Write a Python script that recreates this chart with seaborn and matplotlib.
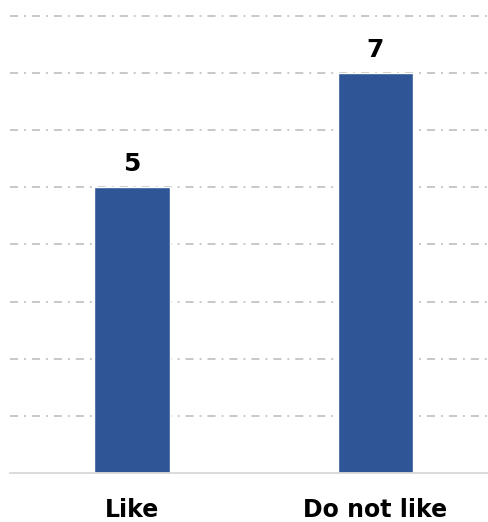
import matplotlib
matplotlib.use("Agg")
import matplotlib.pyplot as plt
import seaborn as sns
import pandas as pd

categories = ["Like", "Do not like"]
values = [5, 7]

sns.set_theme(style="white")
plt.rcParams['font.family'] = ['DejaVu Sans']
plt.rcParams['lines.scale_dashes'] = False

df = pd.DataFrame({"category": categories, "count": values})

fig = plt.figure(figsize=(4.88, 5.22), dpi=100)
ax = fig.add_axes([10/488, 49/522, 1 - 10/488, (473 - 13)/522])

sns.barplot(data=df, x="category", y="count", color="#2F5597", saturation=1,
            width=0.312, ax=ax, zorder=3)

ax.set_xlim(-0.501, 1.462)
ax.set_ylim(0, 8.05)
ax.set_yticks(range(1, 9))
ax.yaxis.grid(True, color="#BFBFBF", linewidth=1.2, linestyle=(0, (5.8, 4.3, 1.4, 4.3)), zorder=0)
ax.xaxis.grid(False)
ax.tick_params(axis="y", length=0, labelleft=False)
ax.tick_params(axis="x", length=0, pad=18)
for lab in ax.get_xticklabels():
    lab.set_fontweight("bold")
    lab.set_fontsize(17)
    lab.set_color("black")
ax.set_xlabel("")
ax.set_ylabel("")
for side in ["top", "left", "right"]:
    ax.spines[side].set_visible(False)
ax.spines["bottom"].set_color("#D9D9D9")
ax.spines["bottom"].set_linewidth(1.3)
ax.spines["bottom"].set_zorder(4)

for cont in ax.containers:
    ax.bar_label(cont, labels=[str(v) for v in values], padding=8,
                 fontsize=18, fontweight="bold", color="black")

fig.savefig("out.png", dpi=100)
